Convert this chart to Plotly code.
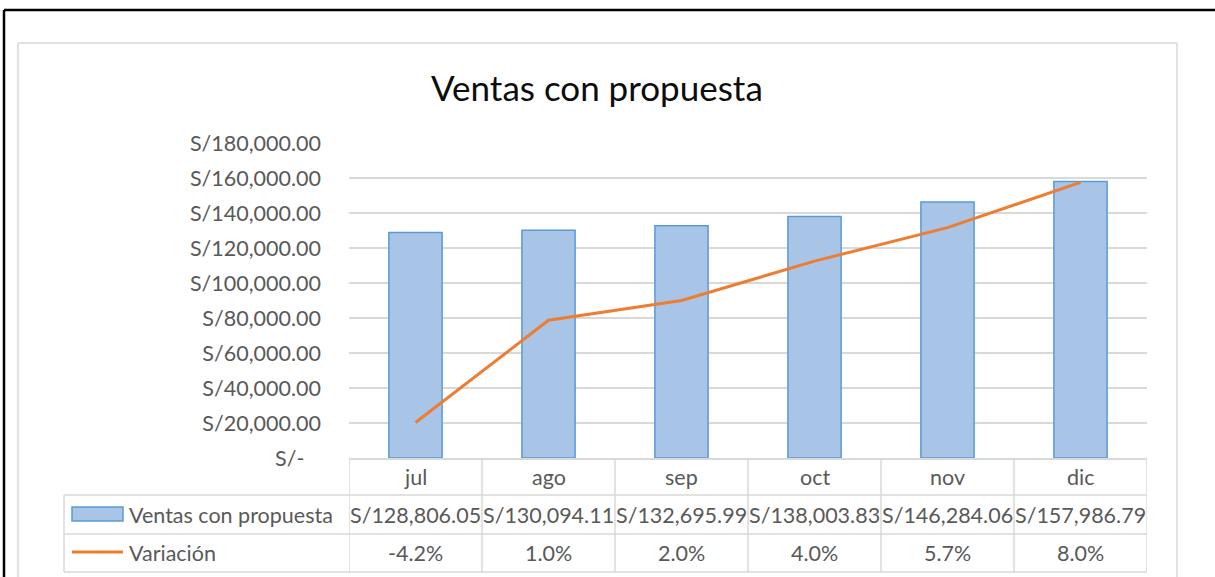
import plotly.graph_objects as go

# ---- data ----
categories = ["jul", "ago", "sep", "oct", "nov", "dic"]
ventas = [128806.05, 130094.11, 132695.99, 138003.83, 146284.06, 157986.79]
variacion = [-0.042, 0.010, 0.020, 0.040, 0.057, 0.080]
y_tickvals = [0, 20000, 40000, 60000, 80000, 100000, 120000, 140000, 160000, 180000]
y_ticktext = ["S/-\u00a0\u00a0\u00a0"] + [f"S/{v:,.2f}" for v in y_tickvals[1:]]
series_names = ["Ventas con propuesta", "Variación"]
title_text = "Ventas con propuesta"

W, H = 1215, 577
FONT = "Lato"
FS = 21.5
GRAY_TXT = "#595959"
GRID = "#D9D9D9"
BAR_FILL = "#A8C4E7"
BAR_LINE = "#5B9BD5"
ORANGE = "#ED7D31"


def px(x):
    return x / W


def py(y):
    return 1 - y / H


PLOT_L, PLOT_R, PLOT_B, PLOT_T = 349, 1147, 458, 143
ROW1_B, ROW2_B, ROW3_B = 495, 534, 572
TABLE_L = 64

fig = go.Figure()
fig.add_trace(go.Bar(
    x=categories, y=ventas, name=series_names[0], width=0.4,
    marker=dict(color=BAR_FILL, line=dict(color=BAR_LINE, width=1.5)),
    showlegend=False,
))
fig.add_trace(go.Scatter(
    x=categories, y=variacion, name=series_names[1], mode="lines", yaxis="y2",
    line=dict(color=ORANGE, width=3), showlegend=False,
))

shapes = []
# outer black frame (top and left edges visible)
shapes.append(dict(type="line", xref="paper", yref="paper", x0=px(4), x1=1.0,
                   y0=py(10), y1=py(10), line=dict(color="black", width=2.5), layer="below"))
shapes.append(dict(type="line", xref="paper", yref="paper", x0=px(4), x1=px(4),
                   y0=0.0, y1=py(10), line=dict(color="black", width=2.5), layer="below"))
# chart area border (top, left, right)
shapes.append(dict(type="line", xref="paper", yref="paper", x0=px(18), x1=px(1177),
                   y0=py(43), y1=py(43), line=dict(color=GRID, width=1.5), layer="below"))
shapes.append(dict(type="line", xref="paper", yref="paper", x0=px(18), x1=px(18),
                   y0=0.0, y1=py(43), line=dict(color=GRID, width=1.5), layer="below"))
shapes.append(dict(type="line", xref="paper", yref="paper", x0=px(1177), x1=px(1177),
                   y0=0.0, y1=py(43), line=dict(color=GRID, width=1.5), layer="below"))
# table horizontal lines
for yy in (ROW1_B, ROW2_B, ROW3_B):
    shapes.append(dict(type="line", xref="paper", yref="paper", x0=px(TABLE_L), x1=px(PLOT_R),
                       y0=py(yy), y1=py(yy), line=dict(color=GRID, width=1.5)))
# table left border
shapes.append(dict(type="line", xref="paper", yref="paper", x0=px(TABLE_L), x1=px(TABLE_L),
                   y0=py(ROW1_B), y1=py(ROW3_B), line=dict(color=GRID, width=1.5)))
# column boundaries (data coordinates)
for i in range(len(categories) + 1):
    xv = i - 0.5
    shapes.append(dict(type="line", xref="x", yref="paper", x0=xv, x1=xv,
                       y0=py(PLOT_B), y1=py(ROW3_B), line=dict(color=GRID, width=1.5)))
# legend keys
shapes.append(dict(type="rect", xref="paper", yref="paper", x0=px(72), x1=px(123),
                   y0=py(521), y1=py(507), fillcolor=BAR_FILL, line=dict(color=BAR_LINE, width=1.5)))
shapes.append(dict(type="line", xref="paper", yref="paper", x0=px(72), x1=px(123),
                   y0=py(552), y1=py(552), line=dict(color=ORANGE, width=3)))

annotations = []
row1_y = (PLOT_B + ROW1_B) / 2
row2_y = (ROW1_B + ROW2_B) / 2
row3_y = (ROW2_B + ROW3_B) / 2
for c, v, p in zip(categories, ventas, variacion):
    annotations.append(dict(x=c, xref="x", y=py(row1_y), yref="paper", text=c,
                            showarrow=False, xanchor="center", yanchor="middle",
                            font=dict(family=FONT, size=FS, color=GRAY_TXT)))
    annotations.append(dict(x=c, xref="x", y=py(row2_y), yref="paper", text=f"S/{v:,.2f}",
                            showarrow=False, xanchor="center", yanchor="middle",
                            font=dict(family=FONT, size=FS, color=GRAY_TXT)))
    annotations.append(dict(x=c, xref="x", y=py(row3_y), yref="paper", text=f"{p*100:.1f}%",
                            showarrow=False, xanchor="center", yanchor="middle",
                            font=dict(family=FONT, size=FS, color=GRAY_TXT)))
for name, yy in zip(series_names, [row2_y, row3_y]):
    annotations.append(dict(x=px(127), xref="paper", y=py(yy), yref="paper", text=name,
                            showarrow=False, xanchor="left", yanchor="middle",
                            font=dict(family=FONT, size=FS, color=GRAY_TXT)))
annotations.append(dict(x=px(597), xref="paper", y=py(87), yref="paper", text=title_text,
                        showarrow=False, xanchor="center", yanchor="middle",
                        font=dict(family=FONT, size=35, color="#0D0D0D")))

fig.update_layout(
    width=W, height=H,
    margin=dict(l=0, r=0, t=0, b=0, pad=0, autoexpand=False),
    paper_bgcolor="white", plot_bgcolor="white",
    xaxis=dict(domain=[px(PLOT_L), px(PLOT_R)], range=[-0.5, 5.5], type="category",
               showgrid=False, zeroline=False, showline=True, linecolor=GRID, linewidth=1.5,
               ticks="", showticklabels=False, automargin=False),
    yaxis=dict(domain=[py(PLOT_B), py(PLOT_T)], range=[0, 180000],
               tickvals=y_tickvals, ticktext=y_ticktext,
               showgrid=True, gridcolor=GRID, gridwidth=1.5, zeroline=False,
               showline=False, ticks="", ticklabelstandoff=27, automargin=False,
               tickfont=dict(family=FONT, size=FS, color=GRAY_TXT)),
    yaxis2=dict(overlaying="y", side="right", range=[-0.06, 0.10], visible=False,
                showgrid=False, zeroline=False, automargin=False),
    shapes=shapes,
    annotations=annotations,
    bargap=0.6,
)

fig.write_html("out.html", config={"displayModeBar": False},
               post_script="document.body.style.margin='0';")
